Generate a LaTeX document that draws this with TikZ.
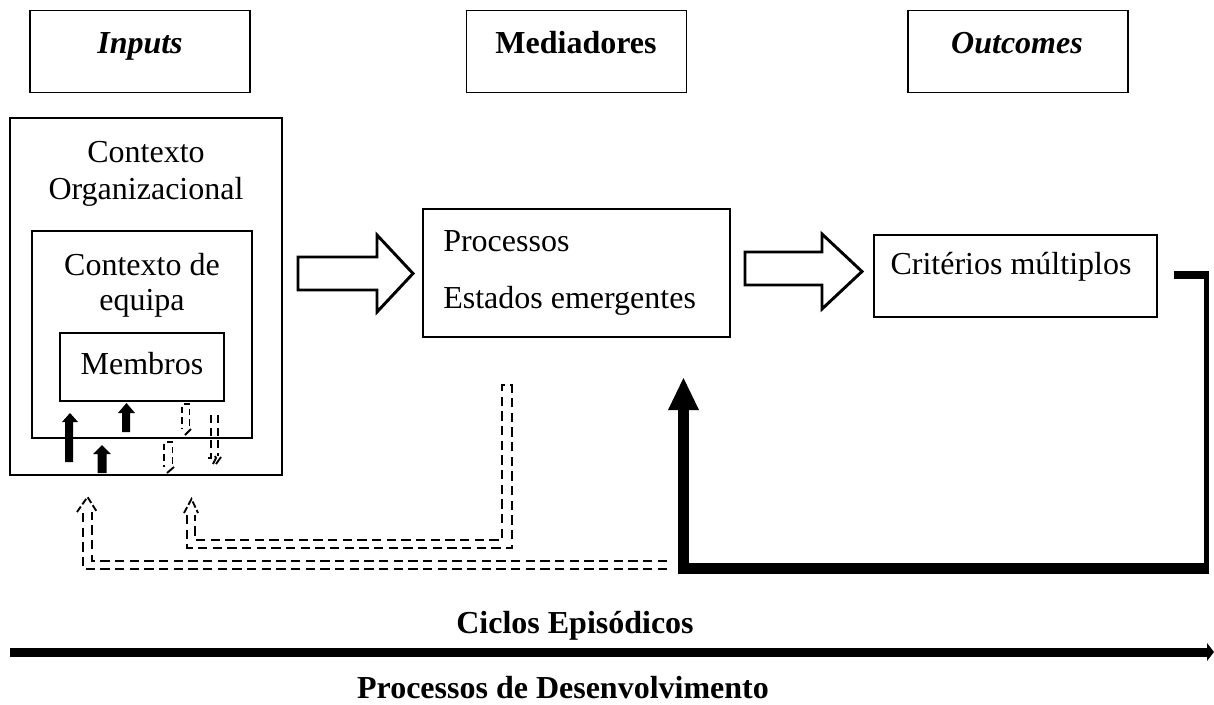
\documentclass[tikz,border=0pt]{standalone}
\usepackage{fontspec}
\setmainfont{Liberation Serif}
\begin{document}
\begin{tikzpicture}[x=0.75pt,y=-0.75pt,
  box/.style={draw,line width=0.85pt,inner sep=0pt,minimum width=#1},
  txt/.style={inner sep=0pt,font=\fontsize{24}{28}\selectfont},
  blockarrow/.style={draw,line width=2.2pt,fill=white,line join=miter},
  dsh/.style={line width=1.4pt,dash pattern=on 7pt off 4pt}]
\useasboundingbox (0,0) rectangle (1214,704);

% column headings
\node[box=165pt,minimum height=61pt] (hin)  at (140,51.5) {};
\node[box=165pt,minimum height=61pt] (hmed) at (576.5,51.5) {};
\node[box=165pt,minimum height=61pt] (hout) at (1018,51.5) {};
\node[txt,font=\fontsize{24}{28}\selectfont\bfseries\itshape] (tin) at (140,46) {Inputs};
\node[txt,font=\fontsize{24}{28}\selectfont\bfseries] (tmed) at (576,43) {Mediadores};
\node[txt,font=\fontsize{24}{28}\selectfont\bfseries\itshape] (tout) at (1017,43) {Outcomes};

% nested input contexts
\node[box=204pt,minimum height=267.75pt] (org) at (146,296.5) {};
\node[box=165pt,minimum height=155.25pt] (team) at (142,334.5) {};
\node[box=123pt,minimum height=51pt] (memb) at (142,367) {};
\node[txt] (torg1) at (146,152) {Contexto};
\node[txt] (torg2) at (146,192) {Organizacional};
\node[txt] (tteam1) at (142,265) {Contexto de};
\node[txt] (tteam2) at (142,303) {equipa};
\node[txt] (tmemb) at (142,364) {Membros};

% mediators and outcomes
\node[box=230.25pt,minimum height=96pt] (med) at (576.5,273) {};
\node[txt,anchor=west] (tproc) at (443,241) {Processos};
\node[txt,anchor=west] (test) at (443,301) {Estados emergentes};
\node[box=212.25pt,minimum height=61.5pt] (crit) at (1015.5,276) {};
\node[txt] (tcrit) at (1011,267) {Critérios múltiplos};

% hollow block arrows between the stages
\draw[blockarrow] (298,257) -- (377,257) -- (377,235) -- (413,273.5)
  -- (377,312) -- (377,290) -- (298,290) -- cycle;
\draw[blockarrow] (745,252) -- (822,252) -- (822,234) -- (862,271.5)
  -- (822,309) -- (822,285) -- (745,285) -- cycle;

% thick feedback loop from the outcomes back to the mediators
\coordinate (fb0) at (1174,275);
\coordinate (fb1) at (1209,275);
\coordinate (fb1b) at (1206.5,272);
\coordinate (fb2) at (1206.5,573);
\coordinate (fb2b) at (1209,568);
\coordinate (fb3) at (678,568);
\coordinate (fb3b) at (683.5,573.5);
\coordinate (fbbase) at (683.5,408);
\coordinate (fbtip) at (683.5,378);
\coordinate (fbl) at (668,410);
\coordinate (fbr) at (699,410);
\draw[line width=6pt] (fb0) -- (fb1);
\draw[line width=3.8pt] (fb1b) -- (fb2);
\draw[line width=8.25pt] (fb2b) -- (fb3);
\draw[line width=8.25pt] (fb3b) -- (fbbase);
\fill (fbtip) -- (fbr) -- (fbl) -- cycle;

% dashed hollow feedback arrows
\draw[dsh] (187,515) -- (187,548) -- (512,548) -- (512,385) -- (502,385)
  -- (502,540) -- (195,540) -- (195,515);
\draw[dsh,dash pattern=on 5pt off 2pt] (184,513) -- (191.5,499) -- (198,513);
\draw[dsh] (667,561) -- (92,561) -- (92,512);
\draw[dsh] (667,569) -- (83,569) -- (83,512);
\draw[dsh,dash pattern=on 5pt off 2pt] (77,512) -- (87.5,497) -- (97,512);

% small upward influences
\fill (65,462) -- (65,422) -- (62,422) -- (70,413) -- (78,422) -- (73,422) -- (73,462) -- cycle;
\fill (122,432) -- (122,413) -- (118,413) -- (126.5,403) -- (135,413) -- (130,413) -- (130,432) -- cycle;
\fill (97.5,473) -- (97.5,454) -- (93,454) -- (102,445) -- (111,454) -- (106.5,454) -- (106.5,473) -- cycle;

% small downward dashed influences
\foreach \xl/\xr/\yt/\yb in {182/189.5/404/435, 164/172.5/442/473} {
  \draw[dsh,dash pattern=on 5pt off 3pt] (\xr,\yb-9) -- (\xr,\yt) -- (\xl,\yt) -- (\xl,\yb-6);
  \draw[line width=1.4pt] (\xl+3,\yb) -- (\xr+1.5,\yb-6);
}
\draw[dsh,dash pattern=on 6pt off 3.5pt] (211,415) -- (211,458) -- (207,458);
\draw[dsh,dash pattern=on 6pt off 3.5pt] (218,415) -- (218,456);
\draw[line width=1.4pt] (215,456) -- (216,458) -- (213,464);
\draw[line width=1.4pt] (216,464) -- (221,457);

% time axis
\node[txt,font=\fontsize{24}{28}\selectfont\bfseries] (tcyc) at (575,626) {Ciclos Episódicos};
\node[txt,font=\fontsize{24}{28}\selectfont\bfseries] (tdev) at (563,688) {Processos de Desenvolvimento};
\coordinate (ax0) at (10,652);
\coordinate (ax1) at (1208,652);
\coordinate (axtip) at (1214,652);
\coordinate (axu) at (1207,643);
\coordinate (axd) at (1207,661);
\draw[line width=6.75pt] (ax0) -- (ax1);
\fill (axtip) -- (axu) -- (axd) -- cycle;
\end{tikzpicture}
\end{document}
